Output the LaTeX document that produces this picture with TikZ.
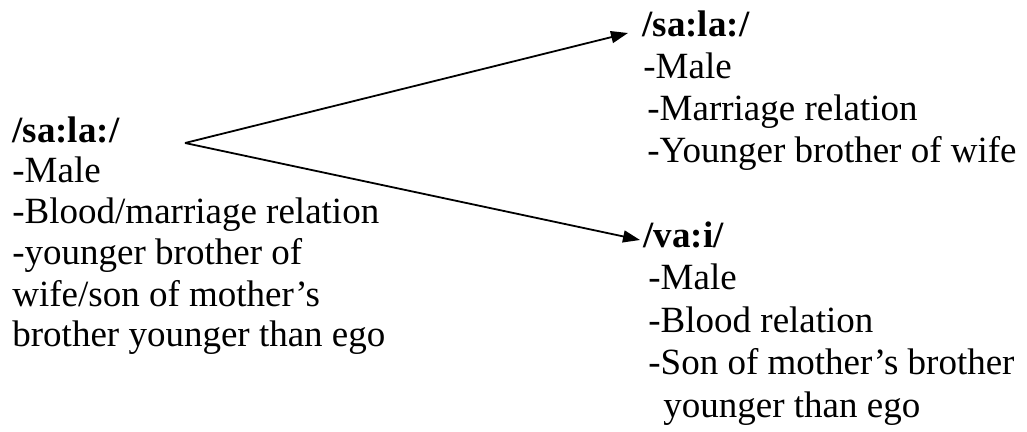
\documentclass[tikz,border=0pt]{standalone}
\usepackage{fontspec}
\setmainfont{Liberation Serif}
\usetikzlibrary{arrows.meta}

\begin{document}
\begin{tikzpicture}[x=0.5pt, y=-0.5pt,
  every node/.style={inner sep=0pt, anchor=base west, align=left,
    font=\fontsize{18.5}{21.2}\selectfont},
  term/.style={font=\fontsize{18.5}{21.2}\selectfont\bfseries},
  link/.style={-{Triangle[length=8.5pt,width=6pt]}, line width=0.9pt}]
\useasboundingbox (0,0) rectangle (1027,432);

% general term (base = last line)
\node[term] (sala) at (12,143) {/sa:la:/};
\node[font=\fontsize{18.5}{20.5}\selectfont] (salatext) at (12,347)
  {-Male\\-Blood/marriage relation\\-younger brother of\\wife/son of mother's\\brother younger than ego};
\coordinate (fork) at (185,143);

% marriage sense
\node[term] (salawife) at (642,37) {/sa:la:/};
\node (salawifetext) at (643,163) {-Male\\\hspace*{2pt}-Marriage relation\\\hspace*{2pt}-Younger brother of wife};

% blood sense
\node[term] (vai) at (643,248) {/va:i/};
\node (vaitext) at (648,417) {-Male\\-Blood relation\\-Son of mother's brother\\\hspace*{7.5pt}younger than ego};

% arrows
\draw[link] (fork) -- ([shift={(-7pt,2pt)}]salawife.base west);
\draw[link] (fork) -- ([shift={(-1.5pt,4pt)}]vai.base west);

\end{tikzpicture}
\end{document}
